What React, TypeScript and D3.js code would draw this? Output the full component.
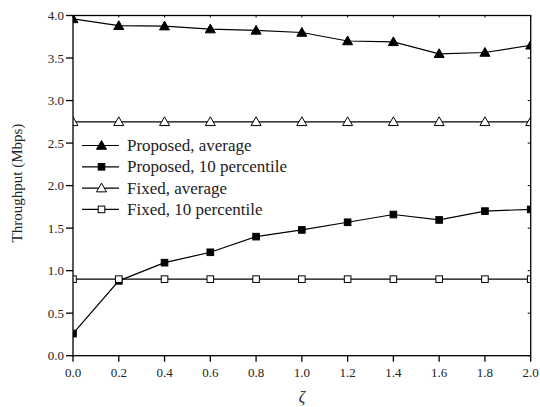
import React from "react";
import * as d3 from "d3";

const zeta = [0.0, 0.2, 0.4, 0.6, 0.8, 1.0, 1.2, 1.4, 1.6, 1.8, 2.0];
const proposedAvg = [3.96, 3.88, 3.875, 3.84, 3.825, 3.80, 3.70, 3.69, 3.55, 3.565, 3.65];
const proposed10 = [0.26, 0.88, 1.094, 1.216, 1.40, 1.479, 1.569, 1.66, 1.596, 1.70, 1.72];
const fixedAvg = [2.75, 2.75, 2.75, 2.75, 2.75, 2.75, 2.75, 2.75, 2.75, 2.75, 2.75];
const fixed10 = [0.9, 0.9, 0.9, 0.9, 0.9, 0.9, 0.9, 0.9, 0.9, 0.9, 0.9];
const xTicks = [0.0, 0.2, 0.4, 0.6, 0.8, 1.0, 1.2, 1.4, 1.6, 1.8, 2.0];
const yTicks = [0.0, 0.5, 1.0, 1.5, 2.0, 2.5, 3.0, 3.5, 4.0];
const legendLabels = ["Proposed, average", "Proposed, 10 percentile", "Fixed, average", "Fixed, 10 percentile"];

type Marker = "triFill" | "sqFill" | "triOpen" | "sqOpen";

const W = 540, H = 407;
const L = 73, R = 530.7, T = 15.5, B = 355.7;
const font = "'Liberation Serif', 'Times New Roman', serif";

function MarkerShape({ kind, x, y }: { kind: Marker; x: number; y: number }) {
  if (kind === "triFill" || kind === "triOpen") {
    const s = 5;
    const pts = `${x},${y - s} ${x - s},${y + s * 0.75} ${x + s},${y + s * 0.75}`;
    return <polygon points={pts} fill={kind === "triFill" ? "#000" : "#fff"} stroke="#000" strokeWidth={1} />;
  }
  const s = 3.3;
  return <rect x={x - s} y={y - s} width={2 * s} height={2 * s} fill={kind === "sqFill" ? "#000" : "#fff"} stroke="#000" strokeWidth={1} />;
}

export default function App() {
  const x = d3.scaleLinear().domain([0, 2]).range([L, R]);
  const y = d3.scaleLinear().domain([0, 4]).range([B, T]);
  const line = d3.line<number>().x((_, i) => x(zeta[i])).y((d) => y(d));
  const series: { data: number[]; kind: Marker }[] = [
    { data: proposedAvg, kind: "triFill" },
    { data: proposed10, kind: "sqFill" },
    { data: fixedAvg, kind: "triOpen" },
    { data: fixed10, kind: "sqOpen" },
  ];
  return (
    <svg width={W} height={H} style={{ position: "absolute", left: 0, top: 0 }} fontFamily={font}>
      <defs>
        <clipPath id="plot">
          <rect x={L} y={T} width={R - L} height={B - T} />
        </clipPath>
      </defs>
      <rect width={W} height={H} fill="#fff" />
      <g clipPath="url(#plot)">
        {series.map((s, si) => (
          <g key={si}>
            <path d={line(s.data) || ""} fill="none" stroke="#000" strokeWidth={1.2} />
            {s.data.map((d, i) => (
              <MarkerShape key={i} kind={s.kind} x={x(zeta[i])} y={y(d)} />
            ))}
          </g>
        ))}
      </g>
      {/* frame */}
      <rect x={L} y={T} width={R - L} height={B - T} fill="none" stroke="#000" strokeWidth={1.3} />
      {/* x ticks */}
      {xTicks.map((t) => (
        <g key={"x" + t}>
          <line x1={x(t)} x2={x(t)} y1={B} y2={B + 6} stroke="#000" strokeWidth={1.3} />
          <line x1={x(t)} x2={x(t)} y1={T} y2={T + 2} stroke="#000" strokeWidth={1} />
          <text x={x(t)} y={B + 21} textAnchor="middle" fontSize={13} fill="#222">{t.toFixed(1)}</text>
        </g>
      ))}
      {/* y ticks */}
      {yTicks.map((t) => (
        <g key={"y" + t}>
          <line x1={L - 7} x2={L} y1={y(t)} y2={y(t)} stroke="#000" strokeWidth={1.3} />
          <line x1={R - 3} x2={R} y1={y(t)} y2={y(t)} stroke="#000" strokeWidth={1} />
          <text x={L - 9} y={y(t) + 4.5} textAnchor="end" fontSize={13} fill="#222">{t.toFixed(1)}</text>
        </g>
      ))}
      <text x={302} y={402} textAnchor="middle" fontSize={16} fontStyle="italic" fill="#222">ζ</text>
      <text transform={`translate(22,183) rotate(-90)`} textAnchor="middle" fontSize={15} fill="#222">Throughput (Mbps)</text>
      {/* legend */}
      {legendLabels.map((lab, i) => {
        const ly = 145.5 + i * 21.3;
        return (
          <g key={lab}>
            <line x1={82} x2={119} y1={ly} y2={ly} stroke="#000" strokeWidth={1.2} />
            <MarkerShape kind={series[i].kind} x={101.5} y={ly} />
            <text x={127} y={ly + 5.5} fontSize={17} fill="#222">{lab}</text>
          </g>
        );
      })}
    </svg>
  );
}
